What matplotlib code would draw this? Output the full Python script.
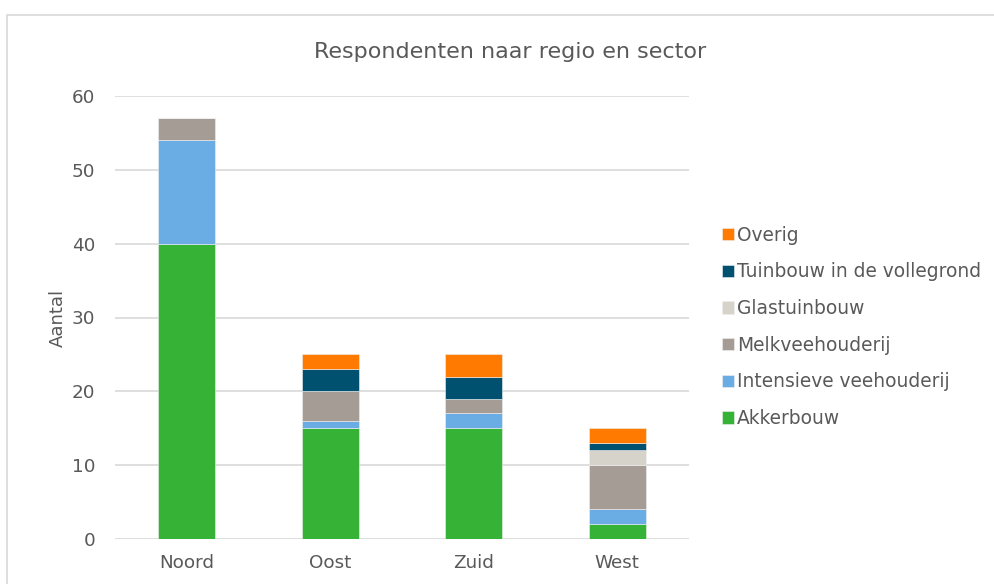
import matplotlib.pyplot as plt
import numpy as np
from matplotlib.patches import Rectangle

# data
regio = ['Noord', 'Oost', 'Zuid', 'West']
sectoren = ['Akkerbouw', 'Intensieve veehouderij', 'Melkveehouderij',
            'Glastuinbouw', 'Tuinbouw in de vollegrond', 'Overig']
akkerbouw = [40, 15, 15, 2]
intensieve_veehouderij = [14, 1, 2, 2]
melkveehouderij = [3, 4, 2, 6]
glastuinbouw = [0, 0, 0, 2]
tuinbouw_vollegrond = [0, 3, 3, 1]
overig = [0, 2, 3, 2]

kleuren = ['#36B336', '#6AADE4', '#A59D95', '#D6D3CB', '#00506F', '#FF7A00']
tekst = '#595959'

plt.rcParams['font.family'] = 'DejaVu Sans'

fig = plt.figure(figsize=(9.95, 5.84), dpi=100)
ax = fig.add_axes([115/995, 1-539/584, (689-115)/995, (539-96)/584])

# rand om de grafiek
fig.patches.append(Rectangle((7/995, -0.05), 1.1, 1-15/584+0.05, transform=fig.transFigure,
                             fill=False, edgecolor='#D9D9D9', linewidth=1.2))

x = np.arange(len(regio))
bottom = np.zeros(len(regio))
reeksen = [akkerbouw, intensieve_veehouderij, melkveehouderij,
           glastuinbouw, tuinbouw_vollegrond, overig]
for naam, waarden, kleur in zip(sectoren, reeksen, kleuren):
    ax.bar(x, waarden, width=0.4, bottom=bottom, color=kleur, label=naam,
           edgecolor='#F0F0F0', linewidth=0.4, zorder=3)
    bottom += np.array(waarden)

ax.set_xlim(-0.5, 3.5)
ax.set_ylim(0, 60)
ax.set_yticks(range(0, 61, 10))
ax.set_xticks(x)
ax.set_xticklabels(regio)
ax.grid(axis='y', color='#D9D9D9', linewidth=1.2, zorder=0)
for s in ax.spines.values():
    s.set_visible(False)
ax.tick_params(axis='both', length=0, labelsize=13.2, colors=tekst)
ax.tick_params(axis='y', pad=14)
ax.tick_params(axis='x', pad=11)
ax.set_ylabel('Aantal', fontsize=13, color=tekst, labelpad=4)

fig.text(510/995, 1-52/584, 'Respondenten naar regio en sector', ha='center', va='center',
         fontsize=16, color=tekst)

h, l = ax.get_legend_handles_labels()
leg = fig.legend(h[::-1], l[::-1], loc='upper left', bbox_to_anchor=(705/995, 1-209/584),
                 frameon=False, fontsize=13.4, handlelength=0.65, handleheight=0.65,
                 handletextpad=0.15, labelspacing=0.95, labelcolor=tekst)

fig.savefig('out.png', dpi=100)
